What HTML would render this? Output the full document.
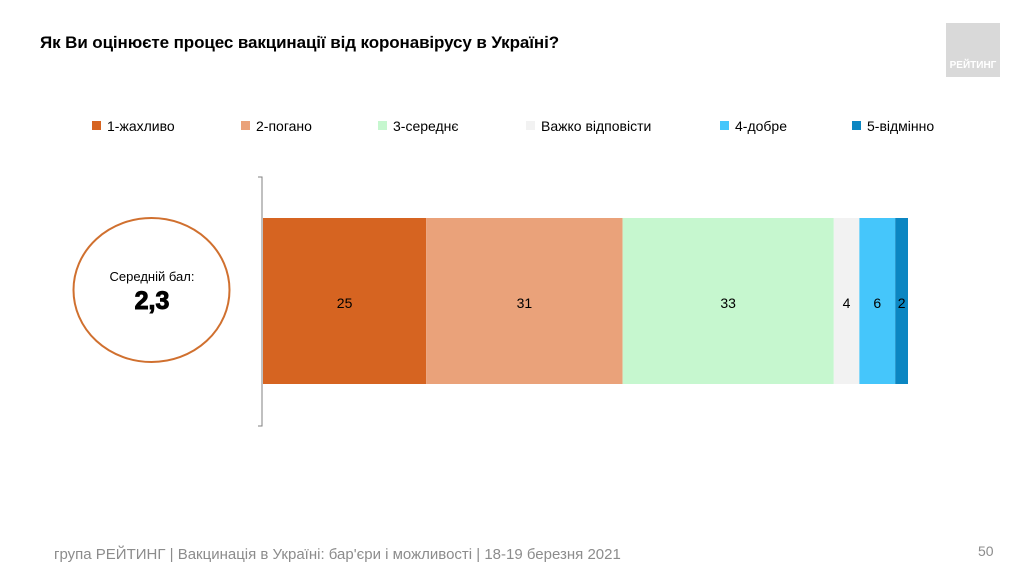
<!DOCTYPE html>
<html><head><meta charset="utf-8"><style>
body{margin:0;width:1024px;height:576px;background:#fff;font-family:"Liberation Sans",sans-serif;overflow:hidden;position:relative}
</style></head><body>
<div style="position:absolute;left:40px;top:33px;font-size:17px;font-weight:bold;color:#000;letter-spacing:-0.1px">Як Ви оцінюєте процес вакцинації від коронавірусу в Україні?</div>
<div style="position:absolute;left:946px;top:23px;width:54px;height:54px;background:#d9d9d9;color:#fff;font-size:10px;font-weight:bold;text-align:center;line-height:12px"><span style="position:absolute;left:0;right:0;top:37px">РЕЙТИНГ</span></div>
<svg id="chart" width="1024" height="576" style="position:absolute;left:0;top:0;font-family:'Liberation Sans',sans-serif"></svg>
<div style="position:absolute;left:54px;top:546px;font-size:15px;color:#8c8c8c">група РЕЙТИНГ | Вакцинація в Україні: бар'єри і можливості | 18-19 березня 2021</div>
<div style="position:absolute;left:978px;top:543px;font-size:14px;color:#8c8c8c">50</div>
<script>
const categories=["1-жахливо","2-погано","3-середнє","Важко відповісти","4-добре","5-відмінно"];
const values=[25.5,30.7,33,4,5.6,2];
const labels=["25","31","33","4","6","2"];
const colors=["#d66421","#eaa27a","#c6f7cf","#f2f2f2","#45c6fb","#0b86c2"];
const legendX=[92,241,378,526,720,852];
const ns="http://www.w3.org/2000/svg",svg=document.getElementById("chart");
function mk(t,a){const e=document.createElementNS(ns,t);for(const k in a)e.setAttribute(k,a[k]);svg.appendChild(e);return e;}
const x0=263,x1=908,total=values.reduce((a,b)=>a+b,0);
const xs=v=>x0+v/total*(x1-x0);
let cum=0;
values.forEach((v,i)=>{
 const r=mk("rect",{x:xs(cum),y:218,width:xs(cum+v)-xs(cum),height:166,fill:colors[i]});
 
 
 const t=mk("text",{x:(xs(cum)+xs(cum+v))/2,y:308,"text-anchor":"middle","font-size":"14",fill:"#000"});
 t.textContent=labels[i];
 
 
 cum+=v;
 const s=mk("rect",{x:legendX[i],y:121,width:9,height:9,fill:colors[i]});
 
 
 const lt=mk("text",{x:legendX[i]+15,y:131,"font-size":"14",fill:"#000"});
 lt.textContent=categories[i];
 
 
});
const ax=mk("path",{d:"M258 177H262V426H258",fill:"none",stroke:"#808080","stroke-width":"1"});


const el=mk("ellipse",{cx:151.5,cy:290,rx:78,ry:72,fill:"none",stroke:"#d0702f","stroke-width":"2"});


const t1=mk("text",{x:152,y:281,"text-anchor":"middle","font-size":"13",fill:"#000"});
t1.textContent="Середній бал:";


const t2=mk("text",{x:152,y:309,"text-anchor":"middle","font-size":"25","font-weight":"900",fill:"#000",stroke:"#000","stroke-width":"1"});
t2.textContent="2,3";


</script>
</body></html>
